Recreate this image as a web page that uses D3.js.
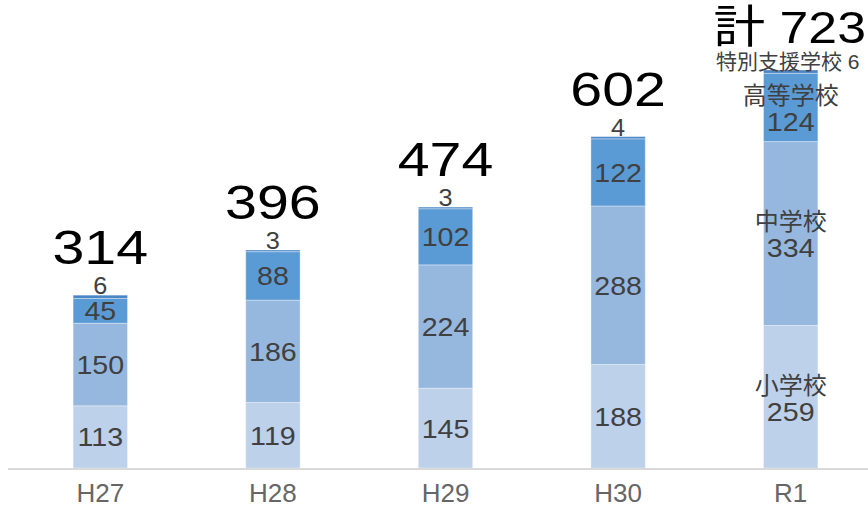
<!DOCTYPE html>
<html>
<head>
<meta charset="utf-8">
<script src="https://cdn.jsdelivr.net/npm/d3@7"></script>
<style>
  body { margin: 0; background: #fff; }
  svg text { font-family: "Liberation Sans", "Noto Sans CJK JP", sans-serif; }
</style>
</head>
<body>
<div id="chart"></div>
<script>
// data
var years = ["H27", "H28", "H29", "H30", "R1"];
var seriesNames = ["小学校", "中学校", "高等学校", "特別支援学校"];
var elementary = [113, 119, 145, 188, 259];
var juniorHigh = [150, 186, 224, 288, 334];
var highSchool = [45, 88, 102, 122, 124];
var special = [6, 3, 3, 4, 6];

var W = 868, H = 507;
var colors = ["#bdd1eb", "#96b8df", "#5b9bd5", "#4a86c6"];
var numScale = 1.1;   // digits in the source are wider than Liberation Sans

var svg = d3.select("#chart").append("svg")
    .attr("width", W).attr("height", H);

var x = d3.scaleBand().domain(years)
    .range([14, 877]).paddingInner(0.685).paddingOuter(0.3425);
var y = d3.scaleLinear().domain([0, 723]).range([468, 70]);

var rows = years.map(function(d, i){
    return {year: d, vals: [elementary[i], juniorHigh[i], highSchool[i], special[i]]};
});
rows.forEach(function(r){
    var acc = 0;
    r.segs = r.vals.map(function(v, k){
        var s = {k: k, v: v, y0: acc, y1: acc + v, year: r.year};
        acc += v;
        return s;
    });
    r.total = acc;
});

// bars
var g = svg.selectAll("g.bar").data(rows).enter().append("g").attr("class", "bar");
g.selectAll("rect").data(function(d){ return d.segs; }).enter().append("rect")
    .attr("x", function(d){ return x(d.year); })
    .attr("width", x.bandwidth())
    .attr("y", function(d){ return y(d.y1); })
    .attr("height", function(d){ return y(d.y0) - y(d.y1); })
    .attr("fill", function(d){ return colors[d.k]; })
    .attr("stroke", "rgba(255,255,255,0.35)")
    .attr("stroke-width", 1);

// axis line
svg.append("line")
    .attr("x1", 8).attr("x2", W)
    .attr("y1", 469).attr("y2", 469)
    .attr("stroke", "#d9d9d9").attr("stroke-width", 2);

// x labels
var xAxis = d3.axisBottom(x).tickSize(0).tickPadding(0);
var ax = svg.append("g").call(xAxis);
ax.select(".domain").remove();
ax.selectAll("text")
    .attr("y", 502).attr("dy", null)
    .style("font-family", "'Liberation Sans', sans-serif")
    .style("font-size", "26px")
    .attr("fill", "#666");

function label(parent, cx, baseline, str, size, sx, color){
    parent.append("text")
        .attr("transform", "translate(" + cx + "," + baseline + ") scale(" + sx + ",1)")
        .attr("text-anchor", "middle")
        .style("font-size", size + "px")
        .attr("fill", color)
        .text(str);
}

var lab = svg.append("g");
rows.forEach(function(r, i){
    var cx = x(r.year) + x.bandwidth() / 2;
    var top = y(r.total);
    var last = (i === rows.length - 1);
    // inner segments
    for (var k = 0; k < 3; k++) {
        var s = r.segs[k];
        var mid = (y(s.y0) + y(s.y1)) / 2;
        if (last) {
            label(lab, cx, mid - 3, seriesNames[k], 24, 1, "#404040");
            label(lab, cx, mid + 24, s.v, 26, numScale, "#404040");
        } else {
            label(lab, cx, mid + 9.5, s.v, 26, numScale, "#404040");
        }
    }
    // top thin segment
    if (last) {
        label(lab, cx - 3, top - 1, seriesNames[3] + " " + r.segs[3].v, 21, 1, "#404040");
        label(lab, cx - 1, top - 27, "計 " + r.total, 45, 1.15, "#000");
    } else {
        label(lab, cx, top - 1, r.segs[3].v, 23, numScale, "#404040");
        label(lab, cx, top - 31, r.total, 49, 1.17, "#000");
    }
});
</script>
</body>
</html>
